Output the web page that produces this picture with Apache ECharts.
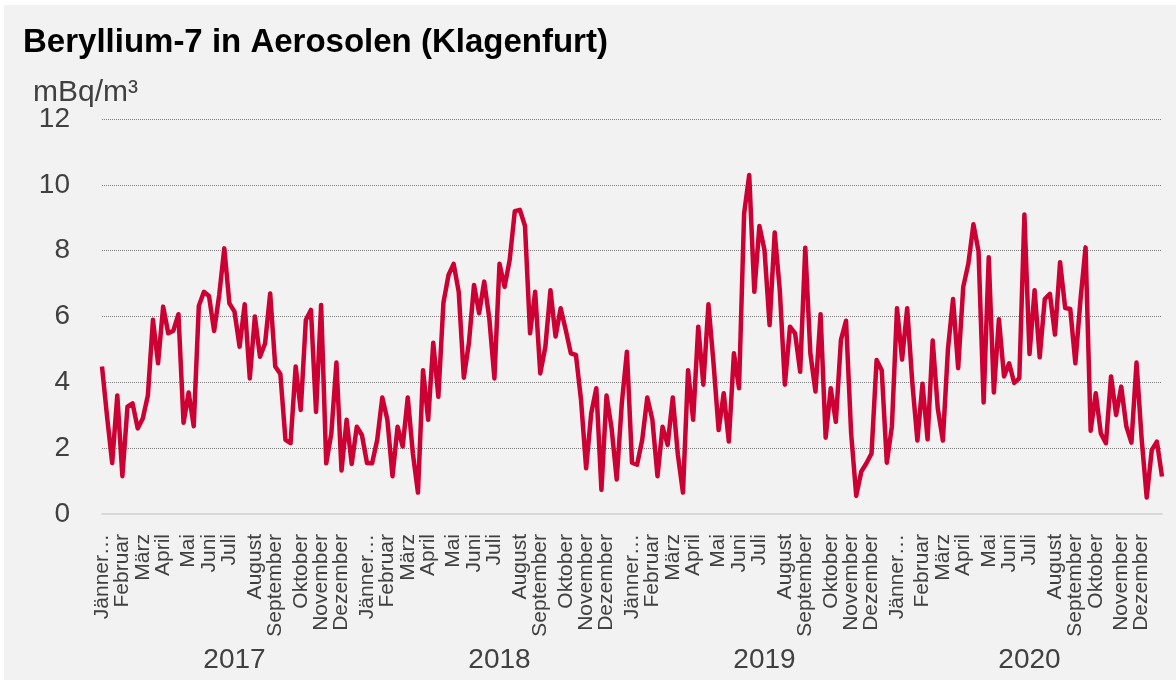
<!DOCTYPE html>
<html>
<head>
<meta charset="utf-8">
<title>Beryllium-7 in Aerosolen (Klagenfurt)</title>
<script src="https://cdn.jsdelivr.net/npm/echarts@6.0.0/dist/echarts.min.js"></script>
<style>
  html, body { margin: 0; padding: 0; background: #ffffff; }
  #main { position: absolute; left: 4px; top: 5px; width: 1172px; height: 675px; }
</style>
</head>
<body>
<div id="main"></div>
<script>
// Jahre und Monate der Kategorieachse
const years = ['2017', '2018', '2019', '2020'];
const monthNames = ['Jänner…', 'Februar', 'März', 'April', 'Mai', 'Juni', 'Juli',
  'August', 'September', 'Oktober', 'November', 'Dezember'];

// Wochen pro Monat (die erste Woche eines Monats trägt den Namen)
const weeksPerMonth2017 = [4, 4, 4, 5, 4, 4, 5, 4, 5, 4, 4, 5];
const weeksPerMonth2018 = [4, 4, 4, 5, 4, 4, 5, 4, 5, 4, 4, 5];
const weeksPerMonth2019 = [4, 4, 4, 5, 4, 4, 5, 4, 5, 4, 4, 5];
const weeksPerMonth2020 = [5, 4, 4, 5, 4, 4, 5, 4, 4, 5, 4, 5];

// Wochenwerte Be-7 in mBq/m3
const values2017 = [4.48, 2.95, 1.55, 3.6, 1.15, 3.26, 3.36, 2.6, 2.9, 3.6,
  5.9, 4.58, 6.3, 5.49, 5.57, 6.07, 2.77, 3.69, 2.67, 6.32,
  6.75, 6.62, 5.56, 6.65, 8.07, 6.4, 6.15, 5.08, 6.37, 4.12,
  6.0, 4.78, 5.18, 6.7, 4.48, 4.25, 2.25, 2.15, 4.48, 3.16,
  5.89, 6.2, 3.1, 6.35, 1.54, 2.45, 4.6, 1.32, 2.86, 1.52,
  2.65, 2.4];
const values2018 = [1.55, 1.54, 2.25, 3.54, 2.86, 1.15, 2.65, 2.05, 3.54, 1.84,
  0.65, 4.37, 2.86, 5.2, 3.56, 6.42, 7.26, 7.6, 6.75, 4.14,
  5.2, 6.96, 6.1, 7.06, 5.94, 4.12, 7.6, 6.9, 7.72, 9.2,
  9.24, 8.75, 5.49, 6.75, 4.27, 5.08, 6.8, 5.39, 6.25, 5.59,
  4.88, 4.83, 3.46, 1.39, 3.06, 3.82, 0.73, 3.6, 2.6, 1.05,
  3.36, 4.93];
const values2019 = [1.56, 1.5, 2.25, 3.54, 2.86, 1.15, 2.65, 2.1, 3.54, 1.8,
  0.65, 4.37, 2.86, 5.69, 3.93, 6.37, 4.58, 2.55, 3.67, 2.2,
  4.88, 3.82, 9.13, 10.3, 6.75, 8.75, 8.02, 5.74, 8.55, 6.8,
  3.93, 5.69, 5.49, 4.32, 8.09, 4.88, 3.72, 6.07, 2.32, 3.82,
  2.8, 5.29, 5.87, 2.45, 0.55, 1.29, 1.54, 1.84, 4.68, 4.37,
  1.56, 2.66];
const values2020 = [6.25, 4.69, 6.25, 4.0, 2.23, 3.96, 2.27, 5.27, 3.21, 2.23,
  5.01, 6.53, 4.43, 6.9, 7.6, 8.8, 7.98, 3.39, 7.8, 3.69,
  5.92, 4.18, 4.58, 3.98, 4.13, 9.1, 4.86, 6.8, 4.76, 6.53,
  6.69, 5.45, 7.65, 6.26, 6.23, 4.58, 6.5, 8.1, 2.53, 3.67,
  2.45, 2.15, 4.18, 3.01, 3.87, 2.66, 2.17, 4.6, 2.3, 0.5,
  1.95, 2.2, 1.14];

const yTicks = [0, 2, 4, 6, 8, 10, 12];

const weeksPerMonth = [weeksPerMonth2017, weeksPerMonth2018, weeksPerMonth2019, weeksPerMonth2020];
const values = [].concat(values2017, values2018, values2019, values2020);

// Kategorien: eine pro Woche, Monatsname nur in der ersten Woche
const weekKeys = [];
const weekLabels = [];
years.forEach((year, y) => {
  weeksPerMonth[y].forEach((n, m) => {
    for (let w = 0; w < n; w++) {
      weekKeys.push(year + '-' + (m + 1) + '-' + (w + 1));
      weekLabels.push(w === 0 ? monthNames[m] : '');
    }
  });
});

const textColor = '#404040';
const fontFamily = 'Liberation Sans';

const myChart = echarts.init(document.getElementById('main'));

const option = {
  backgroundColor: '#f2f2f2',
  animation: false,
  textStyle: { fontFamily: fontFamily },
  title: [
    {
      text: 'Beryllium-7 in Aerosolen (Klagenfurt)',
      left: 14,
      top: 16,
      textStyle: { fontFamily: fontFamily, fontSize: 33, fontWeight: 'bold', color: '#000000' }
    },
    {
      text: 'mBq/m³',
      left: 24,
      top: 68,
      textStyle: { fontFamily: fontFamily, fontSize: 30, fontWeight: 'normal', color: textColor }
    }
  ],
  grid: {
    left: 98,
    right: 14,
    top: 114,
    bottom: 166
  },
  xAxis: [
    {
      type: 'category',
      data: weekKeys,
      boundaryGap: false,
      axisLine: { show: true, lineStyle: { color: '#d9d9d9', width: 2 } },
      axisTick: { show: false },
      splitLine: { show: false },
      axisLabel: {
        // alle Kategorien zeichnen, leere Wochen bleiben ohne Text
        interval: 0,
        rotate: 90,
        margin: 20,
        fontSize: 21,
        color: textColor,
        fontFamily: fontFamily,
        formatter: (value, index) => weekLabels[index]
      }
    },
    {
      type: 'category',
      data: years,
      position: 'bottom',
      offset: 124,
      boundaryGap: true,
      axisLine: { show: false },
      axisTick: { show: false },
      splitLine: { show: false },
      axisLabel: {
        margin: 8,
        fontSize: 28,
        color: textColor,
        fontFamily: fontFamily
      }
    }
  ],
  yAxis: {
    type: 'value',
    min: yTicks[0],
    max: yTicks[yTicks.length - 1],
    interval: yTicks[1] - yTicks[0],
    axisLine: { show: false },
    axisTick: { show: false },
    splitLine: {
      show: true,
      lineStyle: { color: '#7f7f7f', type: 'dotted', width: 1 }
    },
    axisLabel: {
      margin: 32,
      fontSize: 28,
      color: textColor,
      fontFamily: fontFamily
    }
  },
  series: [
    {
      name: 'Beryllium-7',
      type: 'line',
      xAxisIndex: 0,
      data: values,
      symbol: 'none',
      smooth: false,
      lineStyle: { color: '#cc0033', width: 4.5, join: 'round' },
      itemStyle: { color: '#cc0033' }
    }
  ]
};

option && myChart.setOption(option);
</script>
</body>
</html>
